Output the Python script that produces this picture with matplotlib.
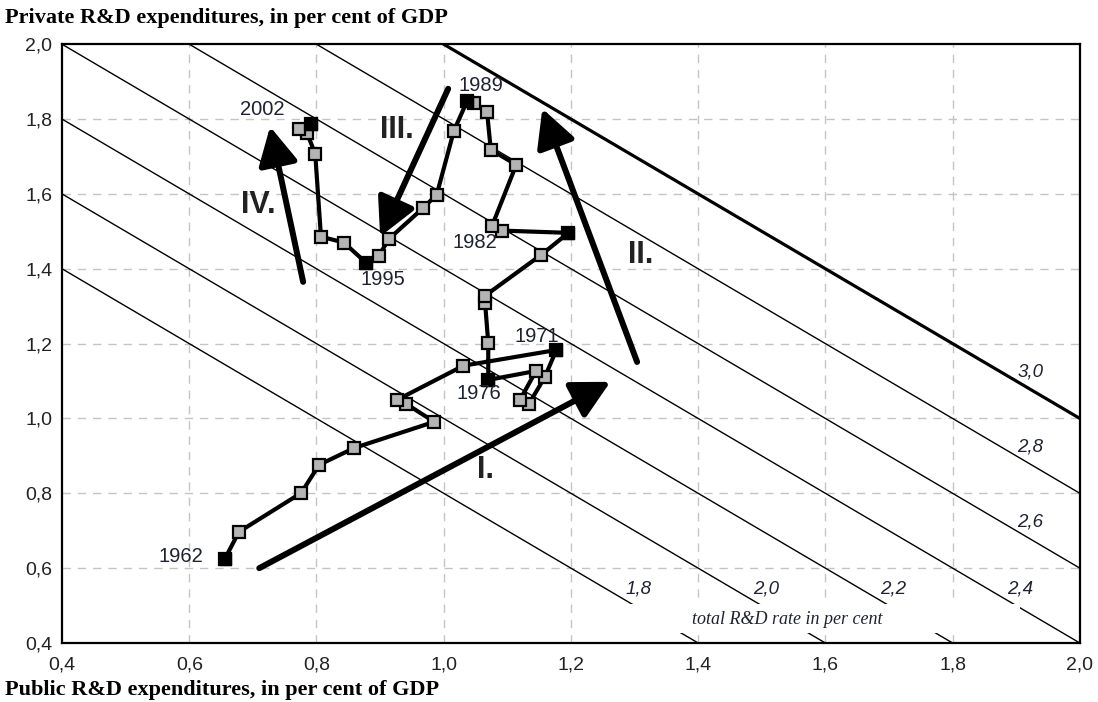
import matplotlib
matplotlib.use("Agg")
from matplotlib import pyplot as plt
from matplotlib.patches import Rectangle
import numpy as np

# public / private R&D expenditures, per cent of GDP (1962 -> 2002)
public = [0.656, 0.678, 0.776, 0.804, 0.859, 0.985, 0.941, 0.927, 1.031, 1.177,
          1.159, 1.134, 1.120, 1.145, 1.070, 1.070, 1.065, 1.065, 1.153, 1.196,
          1.092, 1.076, 1.114, 1.074, 1.068, 1.048, 1.037, 1.016, 0.989, 0.968,
          0.914, 0.898, 0.878, 0.843, 0.807, 0.798, 0.785, 0.773, 0.791]
private = [0.625, 0.697, 0.801, 0.876, 0.921, 0.991, 1.039, 1.050, 1.141, 1.183,
           1.111, 1.039, 1.050, 1.127, 1.103, 1.202, 1.309, 1.328, 1.437, 1.496,
           1.502, 1.515, 1.678, 1.718, 1.820, 1.844, 1.849, 1.769, 1.598, 1.563,
           1.480, 1.435, 1.416, 1.470, 1.486, 1.707, 1.763, 1.774, 1.788]
black_idx = [0, 9, 14, 19, 26, 32, 38]

year_labels = ['1962', '1971', '1976', '1982', '1989', '1995', '2002']
year_label_x = [0.622, 1.147, 1.056, 1.049, 1.059, 0.905, 0.714]
year_label_y = [0.630, 1.218, 1.066, 1.470, 1.889, 1.371, 1.825]
year_label_ha = ['right', 'center', 'center', 'center', 'center', 'center', 'center']

# total R&D rate isolines (public + private = c)
iso_levels = [1.8, 2.0, 2.2, 2.4, 2.6, 2.8, 3.0]
iso_text = ['1,8', '2,0', '2,2', '2,4', '2,6', '2,8', '3,0']

# phase arrows: tail -> tip
phase_names = ['I.', 'II.', 'III.', 'IV.']
arrow_tail = [(0.710, 0.600), (1.304, 1.151), (1.007, 1.881), (0.779, 1.365)]
arrow_tip = [(1.262, 1.098), (1.155, 1.828), (0.900, 1.486), (0.727, 1.780)]
phase_pos = [(1.065, 0.863), (1.309, 1.437), (0.927, 1.772), (0.708, 1.571)]

ticks = [0.4, 0.6, 0.8, 1.0, 1.2, 1.4, 1.6, 1.8, 2.0]
tick_text = ['0,4', '0,6', '0,8', '1,0', '1,2', '1,4', '1,6', '1,8', '2,0']

fig = plt.figure(figsize=(10.98, 7.02), dpi=100)
ax = fig.add_axes([0.0565, 0.084, 0.927, 0.853])
ax.set_xlim(0.4, 2.0)
ax.set_ylim(0.4, 2.0)

txt_col = '#1e2230'
sans = 'Liberation Sans'
serif = 'Liberation Serif'

# grid
for t in ticks[1:-1]:
    ax.axvline(t, color='#c4c4c4', lw=1.0, ls=(0, (6, 5)), zorder=1)
    ax.axhline(t, color='#c4c4c4', lw=1.0, ls=(0, (6, 5)), zorder=1)

# isolines
xs = np.array([0.0, 2.0])
for c, lab in zip(iso_levels, iso_text):
    lw = 2.3 if c == 3.0 else 1.0
    ax.plot(xs, c - xs, color='k', lw=lw, zorder=2, solid_capstyle='butt')
    if c - 2.0 < 0.45:
        x0 = c - 0.544
        ax.text(x0 + 0.05, 0.544, lab, fontsize=13.5, style='italic', family=sans,
                color=txt_col, ha='center', va='center', zorder=6)
    else:
        y0 = c - 1.922
        ax.text(1.922, y0 + 0.045, lab, fontsize=13.5, style='italic', family=sans,
                color=txt_col, ha='center', va='center', zorder=6)

# white label strip for the isoline caption
ax.add_patch(Rectangle((1.246, 0.427), 0.66, 0.077, facecolor='white',
                       edgecolor='none', zorder=3))
ax.text(1.54, 0.464, 'total R&D rate in per cent', fontsize=13, style='italic',
        family=serif, color=txt_col, ha='center', va='center', zorder=6)

# path
ax.plot(public, private, color='k', lw=3.0, zorder=4,
        marker='s', ms=8, mfc='#b4b4b4', mec='k', mew=1.6)
ax.plot([public[i] for i in black_idx], [private[i] for i in black_idx],
        ls='none', marker='s', ms=9, mfc='k', mec='k', zorder=5)

for lab, x, y, ha in zip(year_labels, year_label_x, year_label_y, year_label_ha):
    ax.text(x, y, lab, fontsize=14.5, family=sans, color=txt_col, ha=ha, va='center', zorder=6)

# phase arrows
for tail, tip, name, pos in zip(arrow_tail, arrow_tip, phase_names, phase_pos):
    ax.annotate('', xy=tip, xytext=tail, zorder=5,
                arrowprops=dict(arrowstyle='-|>,head_length=1.15,head_width=0.6',
                                mutation_scale=20, lw=4.3, color='k',
                                shrinkA=0, shrinkB=0))
    ax.text(pos[0], pos[1], name, fontsize=22, fontweight='bold', family=sans,
            color='#222222', ha='center', va='center', zorder=6)

ax.set_xticks(ticks)
ax.set_xticklabels(tick_text)
ax.set_yticks(ticks)
ax.set_yticklabels(tick_text)
ax.tick_params(length=0, labelsize=14, colors='#222222')
ax.tick_params(axis='x', pad=10)
ax.tick_params(axis='y', pad=7)
for lbl in ax.get_xticklabels() + ax.get_yticklabels():
    lbl.set_family(sans)
for sp in ax.spines.values():
    sp.set_linewidth(1.6)
    sp.set_zorder(7)

fig.text(0.005, 0.975, 'Private R&D expenditures, in per cent of GDP', fontsize=16,
         fontweight='bold', family=serif, ha='left', va='center')
fig.text(0.005, 0.017, 'Public R&D expenditures, in per cent of GDP', fontsize=16,
         fontweight='bold', family=serif, ha='left', va='center')

fig.savefig('out.png', dpi=100)
